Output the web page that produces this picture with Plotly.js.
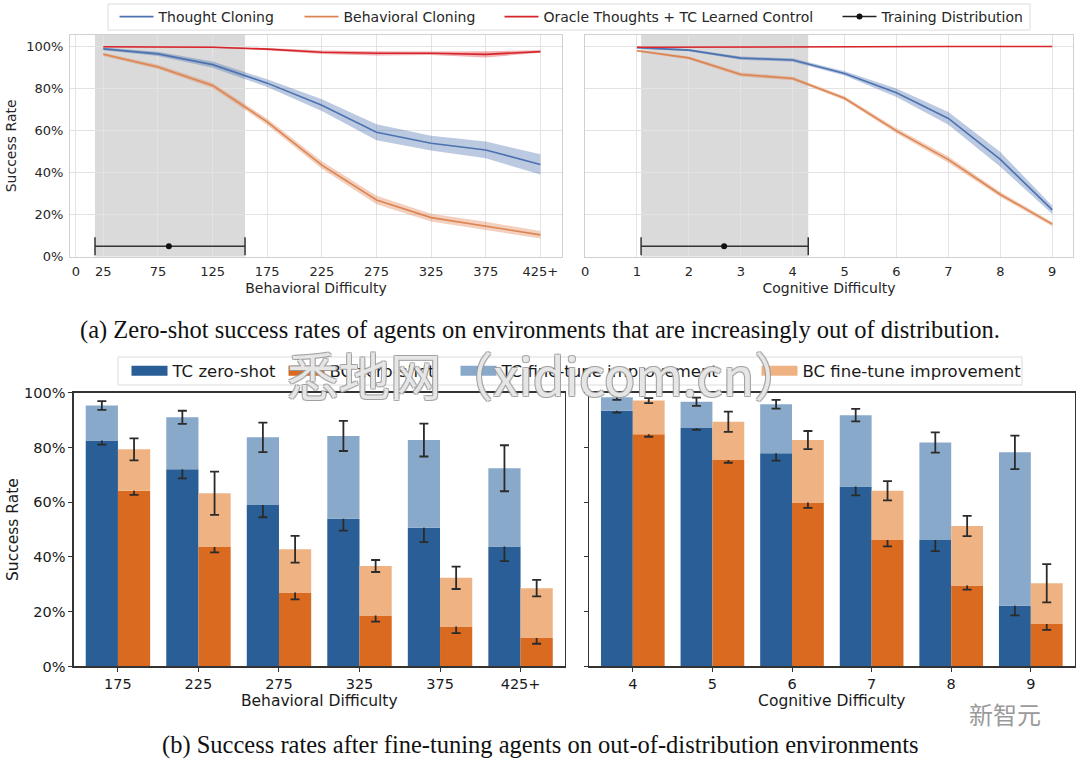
<!DOCTYPE html>
<html><head><meta charset="utf-8">
<script src="https://cdn.plot.ly/plotly-3.0.1.min.js"></script>
<style>html,body{margin:0;padding:0;background:#fff;} #chart{width:1080px;height:761px;}</style>
</head><body><div id="chart"></div>
<script>
// ---------- (a) zero-shot, behavioral difficulty ----------
const behX = [25, 75, 125, 175, 225, 275, 325, 375, 425];
const behTickVals = [0, 25, 75, 125, 175, 225, 275, 325, 375, 425];
const behTickText = ['0', '25', '75', '125', '175', '225', '275', '325', '375', '425+'];
const tcBeh = [98.9, 96.5, 91.4, 82.6, 72.1, 59.2, 54.0, 50.8, 43.9];
const tcBehErr = [0.6, 1.0, 1.5, 1.8, 2.8, 3.8, 3.5, 4.0, 4.8];
const bcBeh = [96.3, 90.3, 81.5, 64.2, 43.6, 27.0, 18.6, 14.6, 10.4];
const bcBehErr = [0.8, 1.0, 1.2, 1.5, 1.8, 2.0, 1.8, 2.0, 1.8];
const orBeh = [99.9, 99.9, 99.7, 98.8, 97.3, 96.8, 96.8, 96.3, 97.6];
const orBehErr = [0.2, 0.2, 0.3, 0.5, 0.8, 1.0, 0.8, 1.5, 0.6];
const trainBehRange = [17.4, 154.7];
const trainBehMean = 85;

// ---------- (a) zero-shot, cognitive difficulty ----------
const cogX = [1, 2, 3, 4, 5, 6, 7, 8, 9];
const cogTickVals = [0, 1, 2, 3, 4, 5, 6, 7, 8, 9];
const tcCog = [99.5, 98.3, 94.5, 93.6, 87.2, 78.0, 65.8, 46.3, 22.3];
const tcCogErr = [0.3, 0.5, 0.8, 0.8, 1.0, 2.0, 3.0, 3.5, 2.0];
const bcCog = [98.0, 94.6, 86.7, 84.8, 75.4, 59.9, 46.2, 29.6, 15.5];
const bcCogErr = [0.5, 0.7, 1.0, 0.8, 1.0, 1.2, 1.5, 1.2, 1.0];
const orCog = [99.7, 99.8, 99.8, 99.8, 99.8, 100, 100, 100, 100];
const orCogErr = [0.2, 0.2, 0.2, 0.2, 0.2, 0.2, 0.2, 0.2, 0.2];
const trainCogRange = [1.08, 4.3];
const trainCogMean = 2.68;
const trainY = 5;

const pctTickVals = [0, 20, 40, 60, 80, 100];
const pctTickText = ['0%', '20%', '40%', '60%', '80%', '100%'];

// ---------- (b) fine-tuning ----------
const behCats = ['175', '225', '275', '325', '375', '425+'];
const tcZeroBeh = [82.5, 72.0, 59.0, 54.0, 50.7, 43.8];
const tcZeroBehErr = [1.5, 3.3, 4.5, 4.4, 5.3, 5.3];
const tcFtBeh = [95.3, 91.0, 83.7, 84.2, 82.7, 72.4];
const tcFtBehErr = [1.6, 2.4, 5.4, 5.5, 6.0, 8.4];
const bcZeroBeh = [64.2, 43.6, 27.0, 18.6, 14.6, 10.4];
const bcZeroBehErr = [1.5, 1.9, 2.5, 2.2, 2.4, 2.1];
const bcFtBeh = [79.3, 63.3, 42.8, 36.7, 32.4, 28.6];
const bcFtBehErr = [4.0, 7.9, 4.9, 2.2, 4.1, 3.0];

const cogCats = ['4', '5', '6', '7', '8', '9'];
const tcZeroCog = [93.4, 87.1, 77.9, 65.7, 46.2, 22.2];
const tcZeroCogErr = [0.7, 0.7, 2.7, 3.2, 4.1, 3.5];
const tcFtCog = [98.3, 96.7, 95.8, 91.8, 81.8, 78.2];
const tcFtCogErr = [0.9, 1.5, 1.6, 2.3, 3.7, 6.1];
const bcZeroCog = [84.8, 75.4, 59.9, 46.2, 29.6, 15.5];
const bcZeroCogErr = [0.9, 1.0, 2.0, 2.3, 1.5, 2.1];
const bcFtCog = [97.1, 89.4, 82.7, 64.2, 51.3, 30.4];
const bcFtCogErr = [0.9, 3.7, 3.3, 3.5, 3.7, 7.0];

// ---------- styles ----------
const C_TC = '#4c72b0', C_BC = '#dd8452', C_OR = '#d7262b';
const F_TC = 'rgba(76,114,176,0.38)', F_BC = 'rgba(221,132,82,0.38)', F_OR = 'rgba(215,38,43,0.35)';
const B_TC0 = '#2a5e96', B_BC0 = '#d96a1f', B_TC1 = '#89a9ca', B_BC1 = '#efb383';
const FONT = 'DejaVu Sans';

const traces = [];
function band(x, m, e, xa, ya, line, fill, name, leg) {
  const up = m.map((v, i) => v + e[i]);
  const lo = m.map((v, i) => v - e[i]);
  traces.push({x: x, y: up, xaxis: xa, yaxis: ya, mode: 'lines', line: {width: 0, color: fill}, showlegend: false, hoverinfo: 'skip'});
  traces.push({x: x, y: lo, xaxis: xa, yaxis: ya, mode: 'lines', line: {width: 0, color: fill}, fill: 'tonexty', fillcolor: fill, showlegend: false, hoverinfo: 'skip'});
  traces.push({x: x, y: m, xaxis: xa, yaxis: ya, mode: 'lines', line: {width: 1.6, color: line}, name: name,
    showlegend: !!leg, legend: leg || 'legend', hoverinfo: 'skip'});
}
band(behX, tcBeh, tcBehErr, 'x', 'y', C_TC, F_TC, 'Thought Cloning', 'legend');
band(behX, bcBeh, bcBehErr, 'x', 'y', C_BC, F_BC, 'Behavioral Cloning', 'legend2');
band(behX, orBeh, orBehErr, 'x', 'y', C_OR, F_OR, 'Oracle Thoughts + TC Learned Control', 'legend3');
band(cogX, tcCog, tcCogErr, 'x2', 'y2', C_TC, F_TC, 'Thought Cloning', null);
band(cogX, bcCog, bcCogErr, 'x2', 'y2', C_BC, F_BC, 'Behavioral Cloning', null);
band(cogX, orCog, orCogErr, 'x2', 'y2', C_OR, F_OR, 'Oracle Thoughts + TC Learned Control', null);

function trainBar(mean, range, xa, ya, showleg) {
  traces.push({x: [mean], y: [trainY], xaxis: xa, yaxis: ya, mode: 'lines+markers',
    marker: {color: '#111', size: 6}, line: {color: '#222', width: 1.5},
    error_x: {type: 'data', symmetric: false, array: [range[1] - mean], arrayminus: [mean - range[0]], color: '#333', thickness: 1.5, width: 9},
    name: 'Training Distribution', showlegend: showleg, legend: 'legend4', hoverinfo: 'skip'});
}
trainBar(trainBehMean, trainBehRange, 'x', 'y', true);
trainBar(trainCogMean, trainCogRange, 'x2', 'y2', false);

function bars(cats, z, ze, f, fe, xa, ya, colZ, colF, group) {
  const err = {type: 'data', color: '#2b2b2b', thickness: 1.8, width: 4.5};
  traces.push({type: 'bar', x: cats, y: z, xaxis: xa, yaxis: ya, offsetgroup: group, marker: {color: colZ, line: {width: 0}},
    error_y: Object.assign({array: ze}, err), showlegend: false, hoverinfo: 'skip'});
  traces.push({type: 'bar', x: cats, y: f.map((v, i) => v - z[i]), base: z, xaxis: xa, yaxis: ya, offsetgroup: group, marker: {color: colF, line: {width: 0}},
    error_y: Object.assign({array: fe}, err), showlegend: false, hoverinfo: 'skip'});
}
bars(behCats, tcZeroBeh, tcZeroBehErr, tcFtBeh, tcFtBehErr, 'x3', 'y3', B_TC0, B_TC1, 'tc');
bars(behCats, bcZeroBeh, bcZeroBehErr, bcFtBeh, bcFtBehErr, 'x3', 'y3', B_BC0, B_BC1, 'bc');
bars(cogCats, tcZeroCog, tcZeroCogErr, tcFtCog, tcFtCogErr, 'x4', 'y4', B_TC0, B_TC1, 'tc');
bars(cogCats, bcZeroCog, bcZeroCogErr, bcFtCog, bcFtCogErr, 'x4', 'y4', B_BC0, B_BC1, 'bc');

// legend-only patches for panel (b)
const barLegendNames = ['TC zero-shot', 'BC zero-shot', 'TC fine-tune improvement', 'BC fine-tune improvement'];
const barLegendColors = [B_TC0, B_BC0, B_TC1, B_BC1];
barLegendNames.forEach((n, i) => {
  traces.push({x: [null], y: [null], xaxis: 'x3', yaxis: 'y3', mode: 'lines', line: {color: barLegendColors[i], width: 11},
    name: n, legend: 'legend' + (5 + i), showlegend: true, hoverinfo: 'skip'});
});

const gridC = '#e3e3e3', frameC = '#d0d0d0', txtC = '#262626';
const topY = [0.6627, 0.954], botY = [0.1242, 0.484];
function topX(dom, range, tv, tt, title) {
  return {domain: dom, range: range, tickvals: tv, ticktext: tt, showgrid: true, gridcolor: gridC, gridwidth: 1,
    zeroline: false, showline: true, mirror: true, linecolor: frameC, linewidth: 1,
    ticks: 'outside', ticklen: 3, tickcolor: 'rgba(0,0,0,0)', tickfont: {family: FONT, size: 13, color: txtC},
    title: {text: title, font: {family: FONT, size: 14, color: txtC}, standoff: 4}};
}
function topYax(anchor, showLabels) {
  return {domain: topY, anchor: anchor, range: [0, 105.5], tickvals: pctTickVals, ticktext: pctTickText,
    showticklabels: showLabels, showgrid: true, gridcolor: gridC, zeroline: false, showline: true, mirror: true, linecolor: frameC, linewidth: 1,
    ticks: 'outside', ticklen: 3, tickcolor: 'rgba(0,0,0,0)', tickfont: {family: FONT, size: 13, color: txtC},
    title: showLabels ? {text: 'Success Rate', font: {family: FONT, size: 14, color: txtC}, standoff: 6} : {text: ''}};
}
function botX(dom, title) {
  return {domain: dom, type: 'category', range: [-0.55, 5.55], showgrid: false, zeroline: false, showline: true, mirror: true,
    linecolor: '#333', linewidth: 1.2, ticks: 'outside', ticklen: 4, tickcolor: '#333', tickwidth: 1,
    tickfont: {family: FONT, size: 14.5, color: '#1a1a1a'},
    title: {text: title, font: {family: FONT, size: 15.5, color: '#1a1a1a'}, standoff: 3}};
}
function botYax(anchor, showLabels) {
  return {domain: botY, anchor: anchor, range: [0, 100], tickvals: pctTickVals, ticktext: pctTickText,
    showticklabels: showLabels, showgrid: false, zeroline: false, showline: true, mirror: true, linecolor: '#333', linewidth: 1.2,
    ticks: 'outside', ticklen: 4, tickcolor: '#333', tickfont: {family: FONT, size: 14.5, color: '#1a1a1a'},
    title: showLabels ? {text: 'Success Rate', font: {family: FONT, size: 15.5, color: '#1a1a1a'}, standoff: 1} : {text: ''}};
}

function legendAt(px, pyCenter, size, itemw, color) {
  return {orientation: 'h', x: px / 1080, y: 1 - pyCenter / 761, xanchor: 'left', yanchor: 'middle',
    bgcolor: 'rgba(0,0,0,0)', borderwidth: 0, font: {family: FONT, size: size, color: color}, itemwidth: itemw};
}

const layout = {
  width: 1080, height: 761, margin: {l: 0, r: 0, t: 0, b: 0},
  paper_bgcolor: '#fff', plot_bgcolor: '#fff', showlegend: true,
  barmode: 'group', bargap: 0.2, bargroupgap: 0,
  xaxis: Object.assign(topX([0.0648, 0.5204], [-5.5, 444.8], behTickVals, behTickText, 'Behavioral Difficulty'), {anchor: 'y'}),
  yaxis: topYax('x', true),
  xaxis2: Object.assign(topX([0.5417, 0.9935], [0, 9.4], cogTickVals, cogTickVals.map(String), 'Cognitive Difficulty'), {anchor: 'y2'}),
  yaxis2: topYax('x2', false),
  xaxis3: Object.assign(botX([0.0682, 0.523], 'Behavioral Difficulty'), {anchor: 'y3'}),
  yaxis3: botYax('x3', true),
  xaxis4: Object.assign(botX([0.5454, 0.995], 'Cognitive Difficulty'), {anchor: 'y4'}),
  yaxis4: botYax('x4', false),
  legend: legendAt(114.5, 17, 14, 34, txtC),
  legend2: legendAt(299.5, 17, 14, 34, txtC),
  legend3: legendAt(499.5, 17, 14, 34, txtC),
  legend4: legendAt(837.5, 17, 14, 34, txtC),
  legend5: legendAt(126.5, 371, 16.5, 36, '#1a1a1a'),
  legend6: legendAt(283.5, 371, 16.5, 36, '#1a1a1a'),
  legend7: legendAt(455.5, 371, 16.5, 36, '#1a1a1a'),
  legend8: legendAt(756.5, 371, 16.5, 36, '#1a1a1a'),
  shapes: [
    {type: 'rect', xref: 'x', yref: 'y', x0: trainBehRange[0], x1: trainBehRange[1], y0: 0, y1: 105.5, fillcolor: 'rgba(120,120,120,0.27)', line: {width: 0}, layer: 'below'},
    {type: 'rect', xref: 'x2', yref: 'y2', x0: trainCogRange[0], x1: trainCogRange[1], y0: 0, y1: 105.5, fillcolor: 'rgba(120,120,120,0.27)', line: {width: 0}, layer: 'below'},
    {type: 'rect', xref: 'paper', yref: 'paper', x0: 108 / 1080, x1: 1030 / 1080, y0: 1 - 30 / 761, y1: 1 - 4 / 761, fillcolor: '#fff', line: {color: '#dcdcdc', width: 1}, layer: 'above'},
    {type: 'rect', xref: 'paper', yref: 'paper', x0: 118 / 1080, x1: 1022 / 1080, y0: 1 - 385 / 761, y1: 1 - 357 / 761, fillcolor: '#fff', line: {color: '#dcdcdc', width: 1}, layer: 'above'}
  ],
  annotations: [
    {xref: 'paper', yref: 'paper', x: 0.5, y: 1 - 330 / 761, xanchor: 'center', yanchor: 'middle',
      text: '(a) Zero-shot success rates of agents on environments that are increasingly out of distribution.',
      showarrow: false, font: {family: 'Liberation Serif', size: 24.5, color: '#111'}},
    {xref: 'paper', yref: 'paper', x: 0.5, y: 1 - 745 / 761, xanchor: 'center', yanchor: 'middle',
      text: '(b) Success rates after fine-tuning agents on out-of-distribution environments',
      showarrow: false, font: {family: 'Liberation Serif', size: 24.5, color: '#111'}},
    {xref: 'paper', yref: 'paper', x: 546 / 1080, y: 1 - 374 / 761, xanchor: 'center', yanchor: 'middle', text: '悉地网（xidicom.cn）', showarrow: false,
      font: {family: 'Noto Sans CJK SC', size: 51.5, color: 'rgba(255,255,255,0.75)',
        shadow: '-1px -1px 0 #9a9a9a, 1px -1px 0 #9a9a9a, -1px 1px 0 #9a9a9a, 1px 1px 0 #9a9a9a'}},
    {xref: 'paper', yref: 'paper', x: 1005 / 1080, y: 1 - 713 / 761, xanchor: 'center', yanchor: 'middle', text: '新智元', showarrow: false,
      font: {family: 'Noto Sans CJK SC', size: 24, color: '#9a9a9a'}}
  ]
};

Plotly.newPlot('chart', traces, layout, {staticPlot: true, displayModeBar: false});
</script>
</body></html>
